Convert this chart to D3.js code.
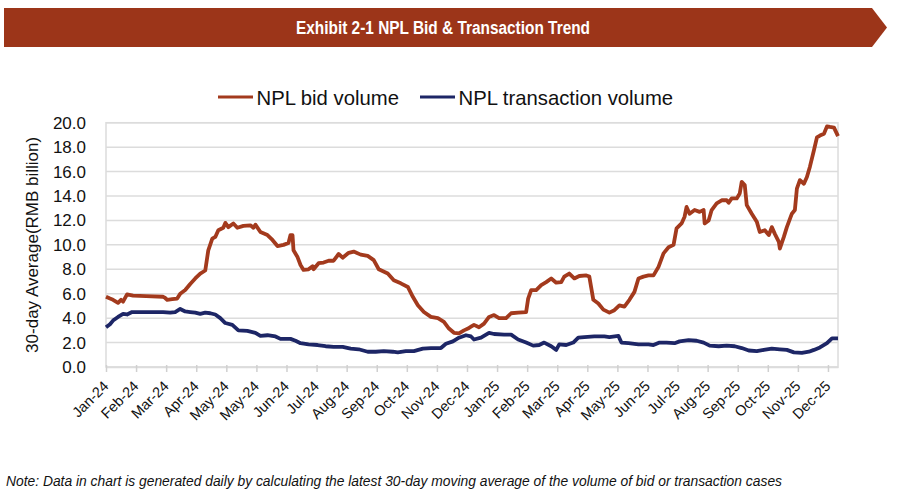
<!DOCTYPE html>
<html>
<head>
<meta charset="utf-8">
<script src="https://cdnjs.cloudflare.com/ajax/libs/d3/7.8.5/d3.min.js"></script>
<style>
  body { margin: 0; background: #fff; }
  svg { display: block; }
</style>
</head>
<body>
<div id="chart"></div>
<script>
var svgWidth = 900;
var svgHeight = 497;

var titleText = "Exhibit 2-1 NPL Bid & Transaction Trend";
var noteText = "Note: Data in chart is generated daily by calculating the latest 30-day moving average of the volume of bid or transaction cases";
var yTitle = "30-day Average(RMB billion)";

// x axis: one tick every 30 days from 2 Jan 2024
var startDate = new Date(2024, 0, 2);
var totalDays = 730;
var tickLabels = ["Jan-24", "Feb-24", "Mar-24", "Apr-24", "May-24", "May-24", "Jun-24", "Jul-24",
  "Aug-24", "Sep-24", "Oct-24", "Nov-24", "Dec-24", "Jan-25", "Feb-25", "Mar-25", "Apr-25",
  "May-25", "Jun-25", "Jul-25", "Aug-25", "Sep-25", "Oct-25", "Nov-25", "Dec-25"];
var yTicks = [0, 2, 4, 6, 8, 10, 12, 14, 16, 18, 20];

// [days since 2 Jan 2024, value in RMB billion]
var bidVolume = [[0,5.75],[4,5.6],[7,5.5],[12,5.25],[15,5.5],[17,5.35],[21,5.95],[27,5.85],[40,5.8],[57,5.75],
  [59,5.65],[61,5.5],[66,5.55],[71,5.6],[74,6.0],[79,6.3],[84,6.8],[89,7.25],[94,7.65],[99,7.9],[101,9.0],
  [102,9.55],[106,10.5],[109,10.65],[112,11.2],[117,11.4],[119,11.8],[122,11.45],[127,11.75],[131,11.4],
  [137,11.55],[144,11.6],[147,11.4],[149,11.65],[154,11.05],[161,10.8],[166,10.4],[171,9.9],[177,10.0],
  [182,10.15],[184,10.8],[186,10.8],[187,9.55],[191,9.0],[194,8.35],[197,7.95],[202,8.0],[206,8.25],[207,8.0],
  [212,8.5],[217,8.55],[222,8.7],[227,8.7],[232,9.25],[236,8.95],[242,9.35],[247,9.45],[254,9.2],[261,9.1],
  [267,8.75],[272,8.0],[281,7.65],[287,7.1],[294,6.85],[301,6.55],[306,5.75],[311,5.05],[317,4.5],[324,4.1],
  [331,4.0],[337,3.7],[342,3.15],[347,2.8],[352,2.75],[357,3.0],[361,3.15],[364,3.3],[367,3.45],[372,3.25],
  [377,3.55],[382,4.1],[387,4.25],[392,4.0],[399,4.0],[404,4.4],[411,4.45],[419,4.5],[421,5.6],[424,6.3],
  [429,6.3],[434,6.7],[439,6.95],[444,7.25],[449,6.9],[454,6.95],[457,7.4],[462,7.65],[467,7.25],[472,7.45],
  [479,7.5],[482,7.4],[486,5.5],[491,5.2],[496,4.7],[502,4.45],[507,4.65],[512,5.05],[517,4.95],[522,5.5],
  [527,6.15],[531,7.25],[536,7.4],[541,7.5],[546,7.5],[551,8.2],[556,9.3],[561,9.8],[566,10.0],[569,11.35],
  [574,11.75],[577,12.3],[579,13.1],[582,12.55],[587,12.85],[592,12.7],[596,12.85],[597,11.75],[601,12.0],
  [604,12.85],[609,13.4],[614,13.65],[619,13.65],[621,13.45],[624,13.8],[629,13.8],[632,14.2],[634,15.15],
  [637,14.9],[639,13.25],[644,12.55],[649,11.9],[652,11.05],[657,11.2],[661,10.8],[664,11.45],[667,10.9],
  [671,10.25],[672,9.7],[676,10.65],[679,11.45],[684,12.55],[687,12.85],[689,14.6],[692,15.3],[696,15.0],
  [699,15.55],[702,16.4],[706,17.75],[709,18.8],[712,18.95],[716,19.1],[719,19.7],[722,19.65],[726,19.6],
  [728,19.25],[730,18.9]];

var transactionVolume = [[0,3.25],[4,3.5],[7,3.8],[12,4.1],[17,4.35],[21,4.3],[26,4.5],[40,4.5],[57,4.5],
  [64,4.45],[69,4.5],[74,4.75],[79,4.55],[84,4.5],[89,4.45],[94,4.35],[99,4.45],[104,4.4],[109,4.3],[114,4.0],
  [119,3.6],[126,3.45],[132,3.0],[141,2.95],[149,2.8],[154,2.55],[161,2.6],[169,2.5],[174,2.3],[184,2.3],
  [189,2.15],[194,1.95],[202,1.85],[211,1.8],[219,1.7],[227,1.65],[236,1.65],[244,1.5],[252,1.45],[261,1.25],
  [269,1.25],[277,1.3],[286,1.25],[291,1.2],[299,1.3],[307,1.3],[316,1.5],[324,1.55],[334,1.55],[339,1.9],
  [346,2.1],[352,2.4],[359,2.6],[364,2.5],[367,2.25],[374,2.4],[382,2.8],[387,2.7],[397,2.65],[404,2.65],
  [411,2.25],[419,2.0],[426,1.75],[432,1.8],[437,2.0],[444,1.7],[449,1.4],[452,1.85],[459,1.8],[466,2.0],
  [471,2.4],[477,2.45],[487,2.5],[497,2.5],[502,2.45],[511,2.55],[514,2.0],[521,1.95],[531,1.85],[541,1.85],
  [546,1.8],[552,2.0],[559,2.0],[567,1.95],[572,2.1],[581,2.2],[589,2.15],[596,2.0],[602,1.75],[611,1.7],
  [619,1.75],[627,1.7],[634,1.55],[641,1.35],[649,1.3],[656,1.4],[664,1.5],[672,1.45],[679,1.4],[686,1.2],
  [694,1.15],[701,1.25],[706,1.4],[712,1.6],[719,1.95],[724,2.35],[728,2.35],[730,2.35]];

var seriesNames = ["NPL bid volume", "NPL transaction volume"];
var seriesColors = ["#A33A1D", "#1D2666"];

var font = "'Liberation Sans', Arial, sans-serif";
var margin = { top: 122.7, right: 62, bottom: 130, left: 106 };
var width = svgWidth - margin.left - margin.right;
var height = 367 - margin.top;

var svg = d3.select("#chart").append("svg")
  .attr("width", svgWidth)
  .attr("height", svgHeight)
  .style("font-family", font);

// title banner
svg.append("polygon")
  .attr("points", "4,8 872,8 887,27.5 872,47 4,47")
  .attr("fill", "#9C3519");
// no narrow face installed, so squeeze the regular one
svg.append("text")
  .attr("x", 296)
  .attr("y", 34)
  .attr("fill", "#fff")
  .attr("textLength", 294)
  .attr("lengthAdjust", "spacingAndGlyphs")
  .style("font-weight", "bold")
  .style("font-size", "18px")
  .text(titleText);

var chart = svg.append("g")
  .attr("transform", `translate(${margin.left}, ${margin.top})`);

var x = d3.scaleTime()
  .domain([startDate, d3.timeDay.offset(startDate, totalDays)])
  .range([0, width]);
var y = d3.scaleLinear().domain([0, 20]).range([height, 0]);

var tickDates = tickLabels.map((d, i) => d3.timeDay.offset(startDate, 30 * i));

// grid + border
chart.selectAll(".grid").data(yTicks).enter().append("line")
  .attr("x1", 0).attr("x2", width)
  .attr("y1", d => y(d)).attr("y2", d => y(d))
  .attr("stroke", "#DCDCDC").attr("stroke-width", 1.5);
chart.append("rect")
  .attr("width", width).attr("height", height)
  .attr("fill", "none").attr("stroke", "#DCDCDC").attr("stroke-width", 1.5);

// y axis labels
var yAxis = chart.append("g")
  .call(d3.axisLeft(y).tickValues(yTicks).tickSize(0).tickPadding(20).tickFormat(d3.format(".1f")));
yAxis.select(".domain").remove();
yAxis.selectAll("text")
  .attr("fill", "#111")
  .style("font-family", font)
  .style("font-size", "17px");

// x axis
var xAxis = chart.append("g")
  .attr("transform", `translate(0, ${height})`)
  .call(d3.axisBottom(x).tickValues(tickDates).tickSizeInner(5).tickSizeOuter(0)
    .tickFormat((d, i) => tickLabels[i]));
xAxis.select(".domain").attr("stroke", "#DCDCDC").attr("stroke-width", 1.5);
xAxis.selectAll(".tick line").attr("stroke", "#D0D0D0").attr("stroke-width", 1.5).attr("y1", -2);
xAxis.selectAll(".tick text")
  .attr("y", 0).attr("dy", 0)
  .attr("transform", "translate(3, 20) rotate(-45)")
  .attr("text-anchor", "end")
  .attr("fill", "#111")
  .style("font-family", font)
  .style("font-size", "14.5px");

// lines
var line = d3.line()
  .x(d => x(d3.timeDay.offset(startDate, d[0])))
  .y(d => y(d[1]));

[bidVolume, transactionVolume].forEach(function(data, i) {
  chart.append("path")
    .datum(data)
    .attr("fill", "none")
    .attr("stroke", seriesColors[i])
    .attr("stroke-width", 3.8)
    .attr("stroke-linejoin", "round")
    .attr("d", line);
});

// y title
svg.append("text")
  .attr("transform", `translate(38, ${margin.top + height / 2}) rotate(-90)`)
  .attr("text-anchor", "middle")
  .attr("fill", "#111")
  .style("font-size", "17px")
  .text(yTitle);

// legend
var legendX = [218, 420];
seriesNames.forEach(function(name, i) {
  var g = svg.append("g").attr("transform", `translate(${legendX[i]}, 97)`);
  g.append("line").attr("x1", 0).attr("x2", 35)
    .attr("stroke", seriesColors[i]).attr("stroke-width", 3);
  g.append("text").attr("x", 38.5).attr("y", 7.5)
    .attr("fill", "#111")
    .style("font-size", "20.3px")
    .text(name);
});

// footnote
svg.append("text")
  .attr("x", 6)
  .attr("y", 486)
  .attr("fill", "#111")
  .attr("textLength", 776)
  .attr("lengthAdjust", "spacingAndGlyphs")
  .style("font-style", "italic")
  .style("font-size", "15px")
  .text(noteText);
</script>
</body>
</html>
